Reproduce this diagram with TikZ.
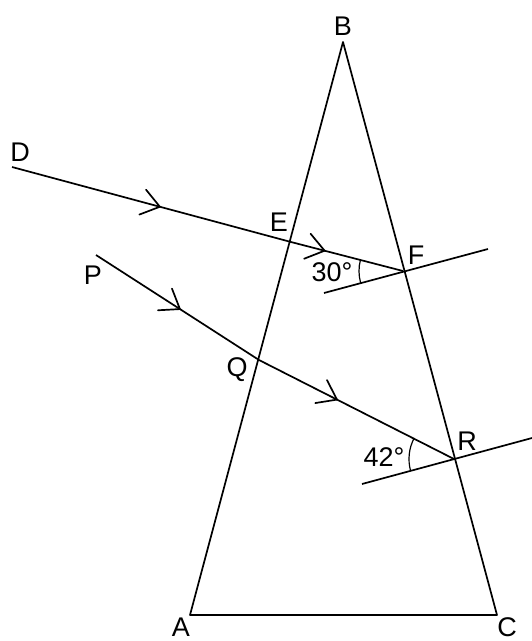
\documentclass[tikz,border=0pt]{standalone}
\usepackage{fontspec}
\setmainfont{Liberation Sans}
\usetikzlibrary{decorations.markings,angles}
\begin{document}
\begin{tikzpicture}[x=1pt,y=-1pt,
  line/.style={line width=1.7pt, line join=round},
  ray/.style={line, postaction={decorate}, decoration={markings, mark=at position #1 with {\draw[line width=1.7pt, line cap=round] (-17.8pt,12.9pt) -- (0,0) -- (-17.8pt,-12.9pt);}}},
  lbl/.style={font=\fontsize{27}{27}\selectfont, inner sep=0pt},
  ang/.style={draw, line width=1.2pt, angle radius=44pt}]
\useasboundingbox (0,0) rectangle (532,641);
% points
\coordinate (A) at (190,615);
\coordinate (B) at (343,42);
\coordinate (C) at (497,615);
\coordinate (D) at (12,167);
\coordinate (E) at (291,242);
\coordinate (F) at (403,271);
\coordinate (P) at (96,255);
\coordinate (Q) at (259,360);
\coordinate (R) at (454,459);
\coordinate (Fl) at (324,293);
\coordinate (Fr) at (488,249);
\coordinate (Rl) at (362,484);
\coordinate (Rr) at (532,438);
% prism
\draw[line] (A) -- (B) -- (C) -- cycle;
% rays
\draw[ray=0.53] (D) -- (E);
\draw[ray=0.30] (E) -- (F);
\draw[ray=0.515] (P) -- (Q);
\draw[ray=0.40] (Q) -- (R);
% lines through F and R
\draw[line] (Fl) -- (Fr);
\draw[line] (Rl) -- (Rr);
% angles
\pic[ang] {angle = E--F--Fl};
\pic[ang, angle radius=45pt] {angle = Q--R--Rl};
% labels
\node[lbl] (lB) at (343,26) {B};
\node[lbl] (lA) at (181,627) {A};
\node[lbl] (lC) at (507,627) {C};
\node[lbl] (lD) at (20,152) {D};
\node[lbl] (lE) at (279,222) {E};
\node[lbl] (lF) at (416,255) {F};
\node[lbl] (lP) at (93,275) {P};
\node[lbl] (lQ) at (237,370) {Q};
\node[lbl] (lR) at (467,441) {R};
\node[lbl] (l30) at (332,272) {30°};
\node[lbl] (l42) at (384,457) {42°};
\end{tikzpicture}
\end{document}
